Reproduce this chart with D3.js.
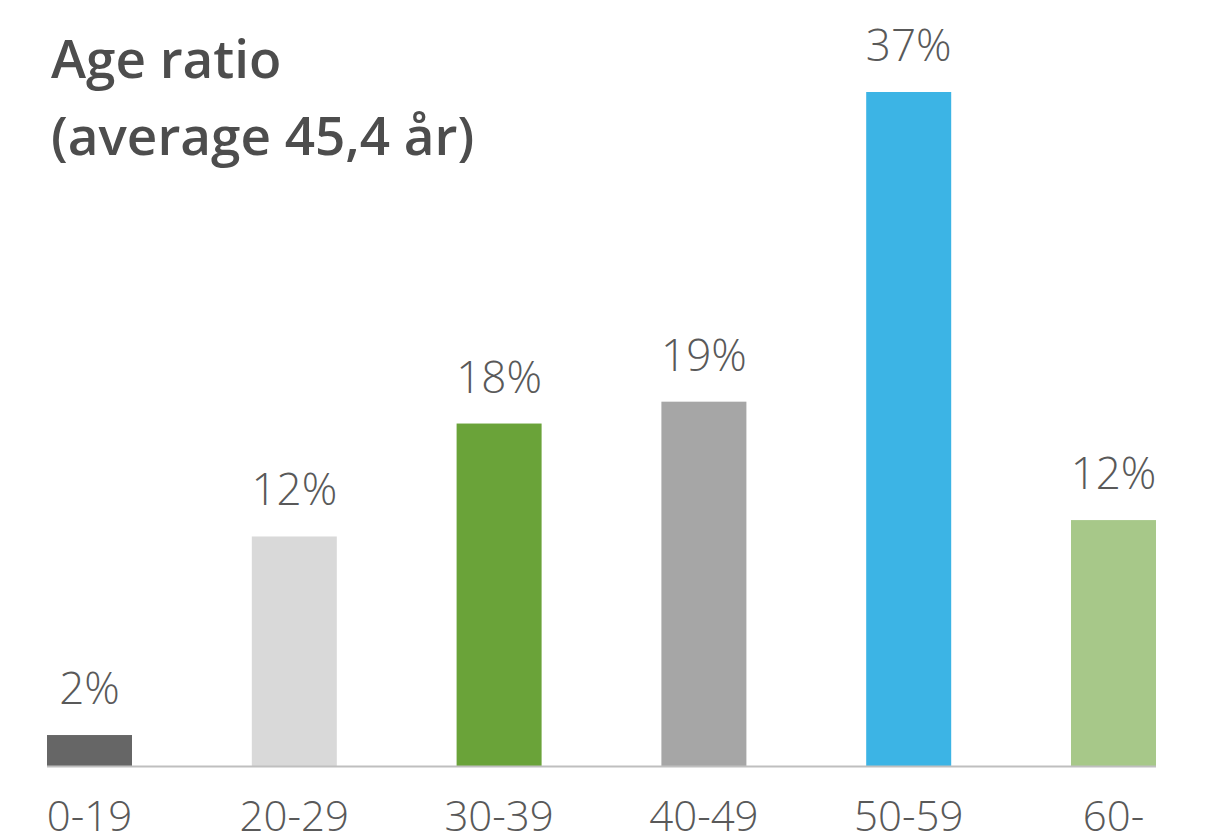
<!DOCTYPE html>
<html>
<head>
<meta charset="utf-8">
<script src="https://cdn.jsdelivr.net/npm/d3@7"></script>
<style>
  body { margin: 0; background: #fff; }
  svg { display: block; }
</style>
</head>
<body>
<div id="chart"></div>
<script>
// age groups and their shares (bar heights, labels as printed)
var categories = ["0-19", "20-29", "30-39", "40-49", "50-59", "60-"];
var values = [1.7, 12.6, 18.8, 20.0, 37.0, 13.5];
var valueLabels = ["2%", "12%", "18%", "19%", "37%", "12%"];
var barColors = ["#666666", "#d9d9d9", "#6aa339", "#a6a6a6", "#3cb4e5", "#a7c889"];
var titleLines = ["Age ratio", "(average 45,4 år)"];

var width = 1215,
    height = 838;

var svg = d3.select("#chart")
    .append("svg")
    .attr("width", width)
    .attr("height", height);

var baseline = 766;
var barWidth = 85;

// bar centres
var x = d3.scalePoint()
    .domain(categories)
    .range([89.5, 1113.5]);

var y = d3.scaleLinear()
    .domain([0, 37])
    .range([baseline, 92]);

// title
svg.append("g")
    .selectAll("text")
    .data(titleLines)
    .enter().append("text")
    .attr("x", 51)
    .attr("y", function(d, i) { return 78 + i * 77; })
    .style("font-family", "'Open Sans', sans-serif")
    .style("font-weight", 600)
    .style("font-size", "53px")
    .style("fill", "#4d4d4d")
    .text(function(d) { return d; });

// bars
svg.append("g")
    .selectAll("rect")
    .data(values)
    .enter().append("rect")
    .attr("x", function(d, i) { return x(categories[i]) - barWidth / 2; })
    .attr("y", function(d) { return y(d); })
    .attr("width", barWidth)
    .attr("height", function(d) { return baseline - y(d); })
    .attr("fill", function(d, i) { return barColors[i]; });

// baseline
svg.append("line")
    .attr("x1", x(categories[0]) - barWidth / 2)
    .attr("x2", x(categories[5]) + barWidth / 2)
    .attr("y1", baseline + 0.5)
    .attr("y2", baseline + 0.5)
    .style("stroke", "#bfbfbf")
    .style("stroke-width", 2);

// value labels
svg.append("g")
    .selectAll("text")
    .data(values)
    .enter().append("text")
    .attr("x", function(d, i) { return x(categories[i]); })
    .attr("y", function(d) { return y(d) - 31; })
    .attr("text-anchor", "middle")
    .style("font-family", "'Open Sans', sans-serif")
    .style("font-weight", 300)
    .style("font-size", "44px")
    .style("fill", "#595959")
    .text(function(d, i) { return valueLabels[i]; });

// category labels
svg.append("g")
    .selectAll("text")
    .data(categories)
    .enter().append("text")
    .attr("x", function(d) { return x(d); })
    .attr("y", 831)
    .attr("text-anchor", "middle")
    .style("font-family", "'Open Sans', sans-serif")
    .style("font-weight", 300)
    .style("font-size", "42px")
    .style("fill", "#595959")
    .text(function(d) { return d; });
</script>
</body>
</html>
